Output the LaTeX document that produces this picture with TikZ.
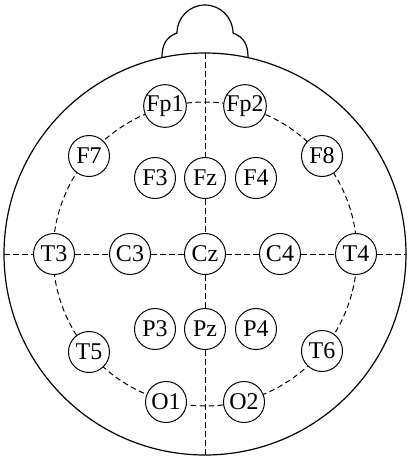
\documentclass[tikz,border=0pt]{standalone}
\usepackage{fontspec}
\setmainfont{Liberation Serif}
\begin{document}
\begin{tikzpicture}[x=1pt,y=-1pt,
  electrode/.style={circle,draw,fill=white,line width=1pt,minimum size=41pt,inner sep=0pt,font=\fontsize{24}{26}\selectfont},
  guide/.style={dashed,dash pattern=on 5.5pt off 3.5pt,line width=1pt},
  outline/.style={line width=1.2pt}]
\useasboundingbox (0,0) rectangle (410,459);
% head and nose
\draw[outline] (205,254) circle[radius=201pt];
\draw[outline] (162,57) .. controls (162,45) and (166,37) .. (177,33)
  .. controls (177,17.5) and (189.5,5) .. (205,5)
  .. controls (220.5,5) and (233,17.5) .. (233,33)
  .. controls (244,37) and (248,45) .. (248,57);
% reference coordinates
\coordinate (ctr) at (205,254);
\coordinate (top) at (205,53);
\coordinate (bot) at (205,455);
\coordinate (lft) at (4,254);
\coordinate (rgt) at (406,254);
% dashed ring
\draw[guide] (ctr) circle[radius=152pt];
% electrodes
\node[electrode] (Fp1) at (165,106) {Fp1};
\node[electrode] (Fp2) at (245,106) {Fp2};
\node[electrode] (F7) at (89,156) {F7};
\node[electrode] (F8) at (322,156) {F8};
\node[electrode] (F3) at (155,178) {F3};
\node[electrode] (Fz) at (205,178) {Fz};
\node[electrode] (F4) at (256,178) {F4};
\node[electrode] (T3) at (54,254) {T3};
\node[electrode] (C3) at (130,254) {C3};
\node[electrode] (Cz) at (205,254) {Cz};
\node[electrode] (C4) at (280,254) {C4};
\node[electrode] (T4) at (356,254) {T4};
\node[electrode] (P3) at (155,329) {P3};
\node[electrode] (Pz) at (205,329) {Pz};
\node[electrode] (P4) at (256,329) {P4};
\node[electrode] (T5) at (89,352) {T5};
\node[electrode] (T6) at (322,351) {T6};
\node[electrode] (O1) at (166,402) {O1};
\node[electrode] (O2) at (244,402) {O2};
% dashed midlines
\draw[guide] (lft) -- (T3) -- (C3) -- (Cz) -- (C4) -- (T4) -- (rgt);
\draw[guide] (top) -- (Fz) -- (Cz) -- (Pz) -- (bot);
\end{tikzpicture}
\end{document}
